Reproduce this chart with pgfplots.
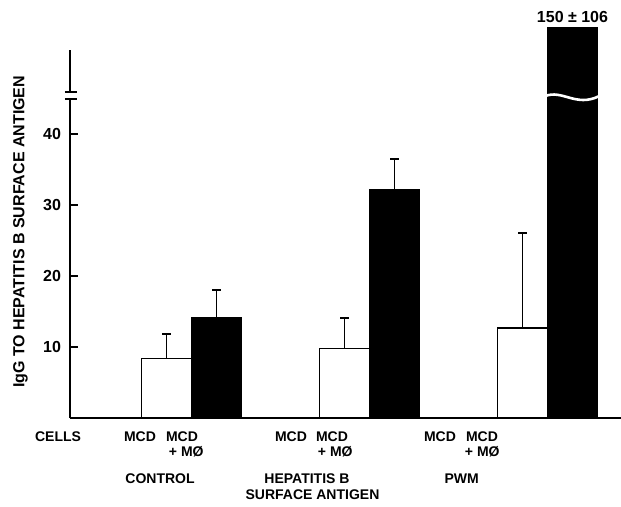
\documentclass[border=0pt]{standalone}
\usepackage{pgfplots}
\pgfplotsset{compat=1.18}
\usepackage{fontspec}
\setmainfont{Liberation Sans}
\begin{document}
\begin{tikzpicture}
\newcommand{\lab}{\bfseries\fontsize{7}{8}\selectfont}
\begin{axis}[
  name=ax,
  width=275.5pt, height=195pt, scale only axis,
  xmin=0, xmax=551, ymin=0, ymax=54.9,
  axis line style={draw=none},
  xtick=\empty,
  ytick={10,20,30,40},
  ytick pos=left,
  tick align=inside,
  major tick length=4pt,
  tick style={black, line width=0.8pt},
  /pgf/number format/assume math mode=true,
  yticklabel style={font=\bfseries\fontsize{8}{9}\selectfont, xshift=-1pt},
  bar width=50,
  clip mode=individual,
]
% white bars (MCD)
\addplot[ybar, fill=white, draw=black, line width=0.75pt,
  error bars/.cd, y dir=plus, y explicit,
  error bar style={line width=0.9pt, black},
  error mark options={rotate=90, line width=1.1pt, mark size=2.2pt, black}]
  table[x=x, y=y, y error=e] {
x y e
96.5 8.4 3.4
274.5 9.8 4.3
452.5 12.7 13.3
};
% black bars (MCD + MO) with error bars
\addplot[ybar, fill=black, draw=black, line width=0.75pt,
  error bars/.cd, y dir=plus, y explicit,
  error bar style={line width=0.9pt, black},
  error mark options={rotate=90, line width=1.1pt, mark size=2.2pt, black}]
  table[x=x, y=y, y error=e] {
x y e
146.5 14.1 3.9
324.5 32.1 4.4
};
% PWM black bar (150, off scale)
\addplot[ybar, fill=black, draw=black, line width=0.75pt]
  table[x=x, y=y] {
x y
502.5 150
};
% axis lines
\draw[line width=0.8pt] (axis cs:0,0) -- (axis cs:551,0);
\draw[line width=0.8pt] (axis cs:0,0) -- (axis cs:0,44.9);
\draw[line width=0.8pt] (axis cs:0,45.9) -- (axis cs:0,51.8);
\draw[line width=0.8pt] (axis cs:0,44.9) ++(-2.5pt,0) -- ++(6pt,0);
\draw[line width=0.8pt] (axis cs:0,45.9) ++(-2.5pt,0) -- ++(6pt,0);
% break in the PWM bar
\draw[white, line width=1.3pt] (axis cs:475,45.3) .. controls (axis cs:492,46.3) and (axis cs:506,43.7) .. (axis cs:529,45.3);
\node[anchor=base, font=\bfseries\fontsize{8}{9}\selectfont, yshift=2.5pt] at (axis cs:502.5,54.9) {150 ± 106};
% y label
\node[rotate=90, font=\bfseries\fontsize{8}{9}\selectfont] at ([xshift=-24.75pt]axis cs:0,26.2) {IgG TO HEPATITIS B SURFACE ANTIGEN};
% category labels
\node[anchor=base, font=\lab, yshift=-11.8pt] at (axis cs:-12,0) {CELLS};
\node[anchor=base, font=\lab, yshift=-11.8pt] at (axis cs:70,0) {MCD};
\node[anchor=base, font=\lab, yshift=-11.8pt] at (axis cs:112,0) {MCD};
\node[anchor=base east, font=\lab, yshift=-19.3pt, inner xsep=0pt] at (axis cs:134,0) {+ MØ};
\node[anchor=base, font=\lab, yshift=-11.8pt] at (axis cs:221,0) {MCD};
\node[anchor=base, font=\lab, yshift=-11.8pt] at (axis cs:262,0) {MCD};
\node[anchor=base east, font=\lab, yshift=-19.3pt, inner xsep=0pt] at (axis cs:283,0) {+ MØ};
\node[anchor=base, font=\lab, yshift=-11.8pt] at (axis cs:370,0) {MCD};
\node[anchor=base, font=\lab, yshift=-11.8pt] at (axis cs:412,0) {MCD};
\node[anchor=base east, font=\lab, yshift=-19.3pt, inner xsep=0pt] at (axis cs:430,0) {+ MØ};
\node[anchor=base, font=\lab, yshift=-32.7pt] at (axis cs:90,0) {CONTROL};
\node[anchor=base, font=\lab, yshift=-32.7pt] at (axis cs:237,0) {HEPATITIS B};
\node[anchor=base, font=\lab, yshift=-40.7pt] at (axis cs:242.5,0) {SURFACE ANTIGEN};
\node[anchor=base, font=\lab, yshift=-32.7pt] at (axis cs:391.7,0) {PWM};
\coordinate (o) at (axis cs:0,0);
\coordinate (tr) at (axis cs:551,54.9);
\end{axis}
\pgfresetboundingbox
\path[use as bounding box] ([xshift=-35pt,yshift=-44pt]o) rectangle ([yshift=14pt]tr);
\end{tikzpicture}
\end{document}
